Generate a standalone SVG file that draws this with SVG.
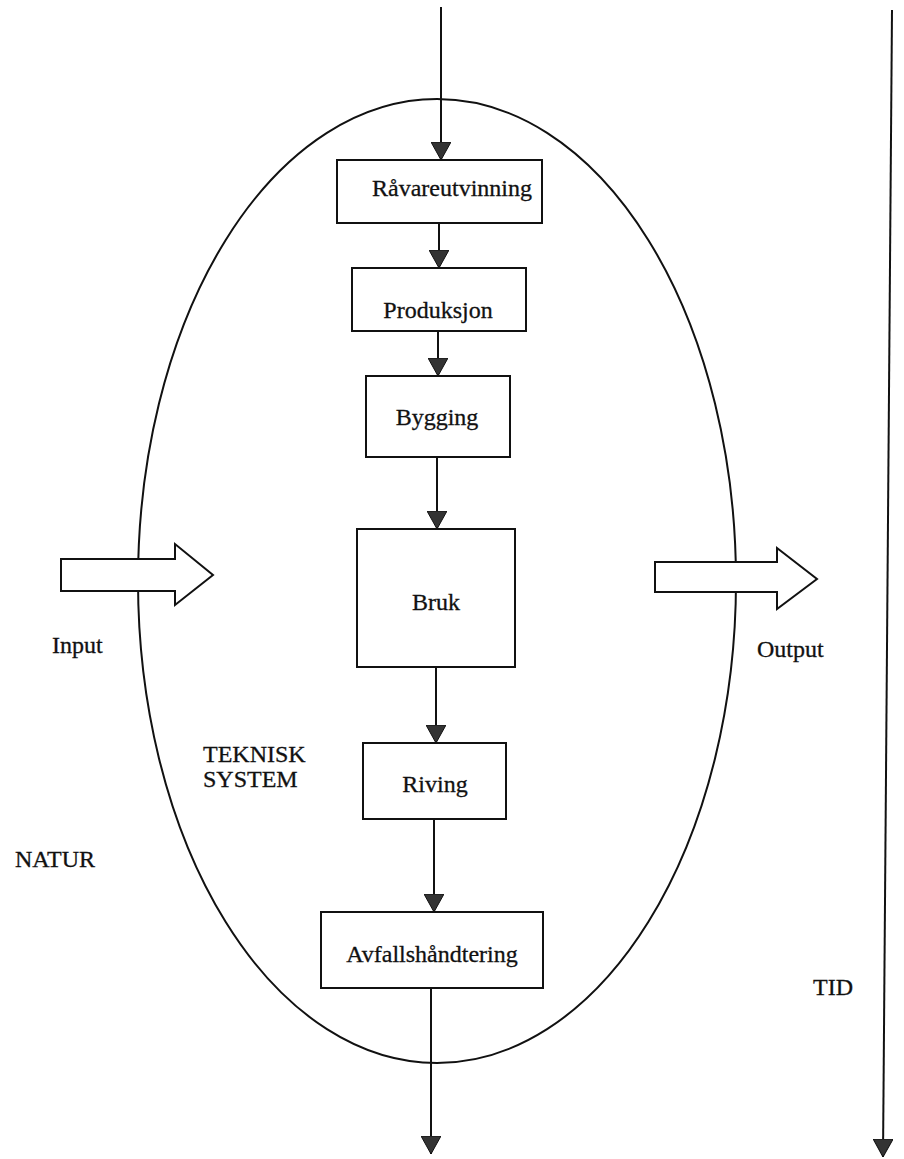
<svg xmlns="http://www.w3.org/2000/svg" width="904" height="1159" viewBox="0 0 904 1159">
<style>
.box{fill:#fff;stroke:#111;stroke-width:2}
.lbl{font-family:"Liberation Serif","Times New Roman",serif;font-size:24px;fill:#111;stroke:#111;stroke-width:0.3}
.c{text-anchor:middle}
.ln{fill:none;stroke:#111;stroke-width:2}
.blk{fill:#fff;stroke:#111;stroke-width:2;stroke-linejoin:miter}
</style>
<defs>
<marker id="ah" viewBox="0 0 18 20" refX="18" refY="10" markerWidth="18" markerHeight="20" markerUnits="userSpaceOnUse" orient="auto">
<path d="M0,0 L18,10 L0,20 z" fill="#333" stroke="#111" stroke-width="1"/>
</marker>
</defs>
<rect width="904" height="1159" fill="#fff"/>
<g id="system-boundary">
<ellipse cx="437" cy="581" rx="299" ry="482" class="ln"/>
</g>
<g id="connectors">
<line x1="441" y1="7" x2="441" y2="160" class="ln" marker-end="url(#ah)"/>
<line x1="439" y1="223" x2="439" y2="268" class="ln" marker-end="url(#ah)"/>
<line x1="438" y1="331" x2="438" y2="376" class="ln" marker-end="url(#ah)"/>
<line x1="437" y1="457" x2="437" y2="529" class="ln" marker-end="url(#ah)"/>
<line x1="436" y1="667" x2="436" y2="743" class="ln" marker-end="url(#ah)"/>
<line x1="434" y1="819" x2="434" y2="912" class="ln" marker-end="url(#ah)"/>
<line x1="431" y1="988" x2="431" y2="1154" class="ln" marker-end="url(#ah)"/>
<line x1="892" y1="10" x2="883" y2="1157" class="ln" marker-end="url(#ah)"/>
</g>
<g id="input-arrow">
<path class="blk" d="M61,559 L175,559 L175,544 L213,575 L175,605 L175,591 L61,591 Z"/>
</g>
<g id="output-arrow">
<path class="blk" d="M655,562 L777,562 L777,548 L817,579 L777,609 L777,592 L655,592 Z"/>
</g>
<g id="node-ravareutvinning">
<rect class="box" x="337" y="160" width="205" height="63"/>
<text class="lbl c" x="452" y="196">Råvareutvinning</text>
</g>
<g id="node-produksjon">
<rect class="box" x="352" y="268" width="174" height="63"/>
<text class="lbl c" x="438" y="318">Produksjon</text>
</g>
<g id="node-bygging">
<rect class="box" x="366" y="376" width="144" height="81"/>
<text class="lbl c" x="437" y="425">Bygging</text>
</g>
<g id="node-bruk">
<rect class="box" x="357" y="529" width="158" height="138"/>
<text class="lbl c" x="436" y="610">Bruk</text>
</g>
<g id="node-riving">
<rect class="box" x="363" y="743" width="143" height="76"/>
<text class="lbl c" x="435" y="792">Riving</text>
</g>
<g id="node-avfall">
<rect class="box" x="321" y="912" width="222" height="76"/>
<text class="lbl c" x="432" y="962">Avfallshåndtering</text>
</g>
<g id="labels">
<text class="lbl" x="52" y="653">Input</text>
<text class="lbl" x="757" y="657">Output</text>
<text class="lbl" x="203" y="762">TEKNISK</text>
<text class="lbl" x="203" y="787">SYSTEM</text>
<text class="lbl" x="15" y="867">NATUR</text>
<text class="lbl" x="813" y="995">TID</text>
</g>
</svg>
